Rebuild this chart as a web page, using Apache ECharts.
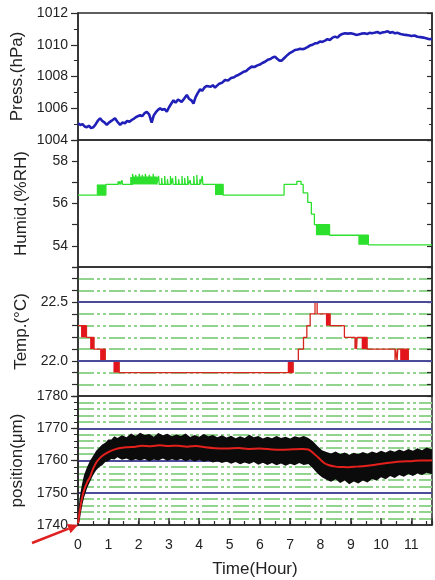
<!DOCTYPE html>
<html>
<head>
<meta charset="utf-8">
<script src="https://cdn.jsdelivr.net/npm/echarts@6/dist/echarts.min.js"></script>
<style>
  html, body { margin: 0; padding: 0; background: #fff; }
  #chart { width: 435px; height: 580px; }
</style>
</head>
<body>
<div id="chart"></div>
<script>
// time range in hours
const X_MAX = 11.68;
const hourTicks = [0, 1, 2, 3, 4, 5, 6, 7, 8, 9, 10, 11];
const humidTicks = [54, 56, 58];
const tempTicks = [22.0, 22.5];
const tempMajor = [22.0, 22.5];

// [hour, hPa]
const pressure = [
  [0,1005.05],[0.08,1004.95],[0.15,1005.0],[0.22,1004.85],[0.29,1004.8],[0.36,1004.9],[0.43,1004.75],[0.5,1004.8],
  [0.57,1004.95],[0.65,1005.2],[0.73,1005.37],[0.8,1005.2],[0.88,1005.1],[0.95,1004.95],[1.02,1005.1],[1.1,1005.2],
  [1.16,1005.3],[1.22,1005.37],[1.3,1005.15],[1.39,1004.95],[1.47,1005.1],[1.55,1005.05],[1.62,1005.2],[1.7,1005.15],
  [1.77,1005.26],[1.85,1005.35],[1.92,1005.45],[1.98,1005.4],[2.05,1005.57],[2.12,1005.5],[2.2,1005.7],[2.27,1005.78],
  [2.35,1005.6],[2.43,1005.1],[2.5,1005.55],[2.57,1005.75],[2.64,1005.9],[2.71,1006.0],[2.78,1005.9],[2.86,1005.95],
  [2.93,1005.78],[3.0,1006.05],[3.08,1006.3],[3.15,1006.5],[3.22,1006.35],[3.3,1006.55],[3.36,1006.45],[3.42,1006.4],
  [3.5,1006.6],[3.59,1006.84],[3.66,1006.6],[3.74,1006.5],[3.81,1006.3],[3.88,1006.7],[3.95,1006.95],[4.03,1007.2],
  [4.1,1007.1],[4.17,1007.3],[4.24,1007.4],[4.3,1007.47],[4.38,1007.35],[4.45,1007.45],[4.52,1007.3],[4.58,1007.36],
  [4.66,1007.55],[4.75,1007.6],[4.85,1007.78],[4.95,1007.75],[5.05,1007.9],[5.15,1007.95],[5.22,1008.05],[5.29,1008.1],
  [5.38,1008.2],[5.47,1008.3],[5.55,1008.35],[5.64,1008.5],[5.73,1008.62],[5.82,1008.6],[5.92,1008.7],[6.0,1008.75],
  [6.08,1008.85],[6.17,1008.93],[6.26,1009.05],[6.35,1009.1],[6.42,1009.2],[6.5,1009.25],[6.58,1009.1],[6.65,1009.0],
  [6.72,1009.0],[6.8,1009.15],[6.88,1009.3],[6.97,1009.45],[7.06,1009.55],[7.16,1009.67],[7.25,1009.7],[7.33,1009.75],
  [7.41,1009.72],[7.49,1009.77],[7.57,1009.85],[7.65,1009.95],[7.74,1010.0],[7.82,1010.09],[7.9,1010.1],[7.98,1010.2],
  [8.06,1010.18],[8.15,1010.26],[8.23,1010.35],[8.31,1010.3],[8.4,1010.45],[8.48,1010.51],[8.56,1010.45],[8.64,1010.6],
  [8.72,1010.68],[8.81,1010.72],[8.9,1010.7],[9.0,1010.72],[9.1,1010.68],[9.18,1010.62],[9.25,1010.65],[9.35,1010.7],
  [9.45,1010.72],[9.55,1010.68],[9.62,1010.75],[9.69,1010.72],[9.78,1010.75],[9.88,1010.8],[9.97,1010.72],[10.05,1010.78],
  [10.13,1010.8],[10.22,1010.85],[10.3,1010.75],[10.38,1010.8],[10.46,1010.72],[10.55,1010.75],[10.64,1010.68],[10.72,1010.65],
  [10.8,1010.62],[10.9,1010.6],[11.0,1010.55],[11.1,1010.58],[11.2,1010.5],[11.3,1010.48],[11.4,1010.45],[11.51,1010.4],
  [11.6,1010.35],[11.68,1010.38]
];

// [hour, %RH] change points (value holds until next point)
const humidity = [
  [0,56.4],[0.92,56.9],
  [1.32,57.05],[1.34,56.9],[1.38,57.05],[1.4,56.9],[1.45,57.1],[1.47,56.9],
  [1.8,57.4],[1.82,57.25],[1.9,57.35],[1.92,57.25],[2.02,57.4],[2.04,57.25],[2.12,57.35],[2.14,57.25],
  [2.22,57.4],[2.24,57.25],[2.35,57.35],[2.37,57.25],[2.48,57.4],[2.5,57.25],[2.6,56.9],
  [2.66,57.3],[2.68,56.9],[2.76,57.2],[2.78,56.9],[2.86,57.3],[2.88,56.9],[2.95,57.15],[2.97,56.9],
  [3.05,57.3],[3.07,56.9],[3.12,57.2],[3.14,56.9],[3.22,57.3],[3.24,56.9],[3.32,57.15],[3.34,56.9],
  [3.43,57.3],[3.45,56.9],[3.52,57.2],[3.54,56.9],[3.62,57.3],[3.64,56.9],[3.7,57.1],[3.72,56.9],
  [3.82,57.3],[3.84,56.9],[3.92,57.35],[3.94,56.9],[4.02,57.15],[4.04,56.9],[4.1,57.3],[4.12,56.9],
  [4.79,56.4],[6.8,56.9],[7.22,57.05],[7.36,56.9],[7.43,56.5],[7.58,56.05],[7.7,55.5],[7.8,55.0],
  [8.3,54.5],[9.58,54.05],[11.68,54.05]
];
// [from, to, low, high] rapid toggling
const humidBlocks = [
  [0.62,0.92,56.4,56.9],[1.72,2.6,56.9,57.25],[4.52,4.79,56.4,56.9],[7.85,8.3,54.5,55.0],[9.25,9.58,54.05,54.5]
];

// [hour, degC] change points
const temperature = [
  [0,22.3],[0.28,22.2],[0.53,22.1],[0.9,22.0],[1.36,21.9],[7.1,22.0],[7.27,22.1],[7.44,22.2],[7.55,22.3],
  [7.66,22.4],[7.82,22.5],[7.89,22.4],[8.32,22.3],[8.79,22.2],[9.14,22.1],[9.16,22.2],[9.19,22.1],[9.21,22.2],
  [9.54,22.1],[10.46,22.0],[10.48,22.1],[10.53,22.0],[10.55,22.1],[10.9,22.0],[11.68,22.0]
];
const tempBlocks = [
  [0.1,0.28,22.2,22.3],[0.4,0.53,22.1,22.2],[0.73,0.9,22.0,22.1],[1.17,1.36,21.9,22.0],
  [6.92,7.1,21.9,22.0],[8.18,8.32,22.3,22.4],[9.36,9.54,22.1,22.2],[10.63,10.9,22.0,22.1]
];

// raw position spread: [hour, low, high]
const posBand = [
  [0,1740,1743],[0.05,1741,1748],[0.1,1744,1751],[0.15,1746.5,1753.5],[0.2,1748.5,1755.5],[0.3,1751.5,1758],
  [0.4,1753.5,1760],[0.5,1755.5,1761.5],[0.6,1757,1763],[0.7,1758,1764],[0.8,1758.5,1765],[0.9,1759.5,1765.5],
  [1.0,1759.8,1766.5],[1.1,1760.5,1766.5],[1.2,1760.3,1767.5],[1.3,1761,1767],
  [1.45,1760.2,1767.8],[1.6,1760.6,1767.2],[1.75,1759.9,1768.4],[1.9,1760.4,1767.6],[2.05,1760.0,1768.6],
  [2.2,1760.5,1767.9],[2.35,1759.8,1768.2],[2.5,1760.3,1767.4],[2.65,1760.0,1768.5],[2.8,1760.6,1767.8],
  [2.95,1759.9,1768.3],[3.1,1760.4,1767.5],[3.25,1760.0,1768.1],[3.4,1760.5,1767.6],[3.55,1759.8,1768.4],
  [3.7,1760.3,1767.3],[3.85,1759.7,1767.9],[4.0,1760.2,1767.4],[4.15,1759.6,1768.2],[4.3,1760.0,1767.5],
  [4.45,1759.4,1767.9],[4.6,1759.8,1767.2],[4.75,1759.2,1767.8],[4.9,1759.7,1767.1],[5.05,1759.0,1767.7],
  [5.2,1759.5,1766.9],[5.35,1758.8,1767.5],[5.5,1759.4,1767.0],[5.65,1758.9,1768.0],[5.8,1759.5,1767.2],
  [5.95,1758.7,1767.6],[6.1,1759.3,1766.8],[6.25,1758.6,1767.4],[6.4,1759.2,1766.9],[6.55,1758.5,1767.6],
  [6.7,1759.1,1767.0],[6.85,1758.4,1767.4],[7.0,1759.0,1766.8],[7.15,1758.5,1767.5],[7.3,1759.2,1767.1],
  [7.45,1758.6,1767.6],[7.6,1758.9,1767.0],[7.75,1757.6,1766.0],[7.9,1756.0,1764.5],[8.05,1754.8,1763.2],
  [8.2,1754.0,1762.6],[8.35,1753.4,1762.2],[8.5,1754.2,1762.8],[8.65,1753.0,1762.0],[8.8,1753.8,1762.5],
  [8.95,1752.6,1761.8],[9.1,1753.5,1762.4],[9.25,1752.9,1762.0],[9.4,1753.8,1762.6],[9.55,1753.2,1762.1],
  [9.7,1754.3,1762.8],[9.85,1753.8,1762.3],[10.0,1754.8,1763.0],[10.15,1754.2,1762.5],[10.3,1755.2,1763.2],
  [10.45,1754.6,1762.7],[10.6,1755.5,1763.4],[10.75,1755.0,1762.9],[10.9,1755.8,1763.6],[11.05,1755.2,1763.0],
  [11.2,1756.0,1763.8],[11.35,1755.5,1763.2],[11.5,1756.2,1764.0],[11.68,1755.7,1763.4]
];
// smoothed position [hour, um]
const posSmooth = [
  [0,1740.5],[0.06,1744.5],[0.12,1747.8],[0.2,1750.8],[0.3,1753.2],[0.4,1755],[0.5,1757.5],[0.62,1759.6],
  [0.73,1760.8],[0.84,1761.7],[1.0,1762.6],[1.17,1763.3],[1.35,1763.8],[1.6,1764.1],[1.9,1764.3],[2.1,1764.6],
  [2.4,1764.4],[2.7,1764.7],[3.0,1764.5],[3.3,1764.6],[3.6,1764.3],[3.9,1764.5],[4.2,1764.1],[4.52,1763.8],
  [4.9,1763.7],[5.3,1763.9],[5.62,1763.6],[6.0,1763.7],[6.4,1763.4],[6.72,1763.3],[7.1,1763.5],[7.4,1763.6],
  [7.6,1763.4],[7.75,1762.4],[7.93,1760.9],[8.1,1759.4],[8.26,1758.6],[8.5,1758.1],[8.7,1758.0],[8.92,1757.9],
  [9.2,1758.1],[9.47,1758.3],[9.75,1758.6],[10.02,1759.0],[10.35,1759.4],[10.68,1759.7],[11.0,1759.8],
  [11.3,1760.0],[11.56,1760.0],[11.68,1760.1]
];

const FRAME = '#2b2b2b';
const FONT = 'Liberation Sans';
const tickLabel = { fontFamily: FONT, fontSize: 14, color: '#222' };
const nameStyle = { fontFamily: FONT, fontSize: 17, color: '#222' };
const greenDash = { color: '#92d48e', width: 2, type: [16, 3, 3, 3, 3, 3] };
const blueLine = { color: '#4b4b9c', width: 1.8, type: 'solid' };

function blocks(list) {
  return list.map(b => [{ xAxis: b[0], yAxis: b[2] }, { xAxis: b[1], yAxis: b[3] }]);
}
function near(list, v) {
  return list.some(t => Math.abs(t - v) < 1e-6);
}

// left axis with labels + mirrored right axis with inward ticks
function yPair(grid, min, max, interval, name, opts) {
  const base = {
    type: 'value', gridIndex: grid, min: min, max: max, interval: interval,
    axisLine: { show: true, lineStyle: { color: FRAME, width: 1.5 } },
    splitLine: { show: false }
  };
  const minor = opts.minor ? { show: true, splitNumber: opts.minor, length: 4, lineStyle: { color: FRAME } } : { show: false };
  const left = Object.assign({}, base, {
    position: 'left',
    axisTick: { show: true, length: opts.tick || 6, lineStyle: { color: FRAME, width: 1.2 } },
    minorTick: minor,
    axisLabel: Object.assign({ margin: 10, formatter: opts.fmt || (v => String(v)) }, tickLabel),
    name: name, nameLocation: 'middle', nameGap: 48, nameTextStyle: nameStyle
  });
  if (opts.split) left.splitLine = opts.split;
  if (opts.minorSplit) left.minorSplitLine = opts.minorSplit;
  const right = Object.assign({}, base, {
    position: 'right',
    axisTick: { show: true, inside: true, length: 5, lineStyle: { color: FRAME, width: 1.2 } },
    minorTick: opts.minor ? { show: true, splitNumber: opts.minor, length: 3, lineStyle: { color: FRAME } } : { show: false },
    axisLabel: { show: false }
  });
  return [left, right];
}

const xBase = { type: 'value', min: 0, max: X_MAX, splitLine: { show: false }, position: 'bottom' };

const chart = echarts.init(document.getElementById('chart'));
chart.setOption({
  animation: false,
  textStyle: { fontFamily: FONT },
  grid: [
    { top: 13, height: 127 },
    { top: 140, height: 127 },
    { top: 267, height: 129 },
    { top: 396, height: 129 }
  ].map(g => Object.assign({ left: 78, right: 3, show: true, borderColor: FRAME, borderWidth: 1.5 }, g)),
  xAxis: [
    Object.assign({}, xBase, { gridIndex: 0, show: false }),
    Object.assign({}, xBase, { gridIndex: 1, show: false }),
    Object.assign({}, xBase, { gridIndex: 2, show: false }),
    Object.assign({}, xBase, {
      gridIndex: 3, interval: 1,
      axisLine: { lineStyle: { color: FRAME, width: 1.5 } },
      axisTick: { inside: true, length: 7, lineStyle: { color: FRAME, width: 1.5 } },
      axisLabel: Object.assign({ margin: 13, formatter: v => near(hourTicks, v) ? String(v) : '' }, tickLabel),
      name: 'Time(Hour)', nameLocation: 'middle', nameGap: 36, nameTextStyle: nameStyle
    }),
    Object.assign({}, xBase, {
      gridIndex: 3, interval: 0.5,
      axisLine: { show: false },
      axisTick: { inside: true, length: 4, lineStyle: { color: FRAME, width: 1.2 } },
      axisLabel: { show: false }
    })
  ],
  yAxis: [].concat(
    yPair(0, 1004, 1012, 2, 'Press.(hPa)', { minor: 2, tick: 7 }),
    yPair(1, 53, 59, 1, 'Humid.(%RH)', { fmt: v => near(humidTicks, v) ? String(v) : '' }),
    yPair(2, 21.7, 22.8, 0.1, 'Temp.(°C)', {
      fmt: v => near(tempTicks, v) ? v.toFixed(1) : '',
      split: { show: true, showMinLine: false, showMaxLine: false, lineStyle: greenDash }
    }),
    yPair(3, 1740, 1780, 10, 'position(μm)', {
      minor: 5, tick: 7,
      split: { show: true, showMinLine: false, showMaxLine: false, lineStyle: blueLine },
      minorSplit: { show: true, lineStyle: greenDash }
    })
  ),
  series: [
    {
      type: 'line', xAxisIndex: 0, yAxisIndex: 0, data: pressure, symbol: 'none',
      lineStyle: { color: '#2020b8', width: 2.6 }
    },
    {
      type: 'line', xAxisIndex: 1, yAxisIndex: 2, data: humidity, symbol: 'none', step: 'end',
      lineStyle: { color: '#2ee02e', width: 1.3 },
      markArea: { silent: true, itemStyle: { color: '#2ee02e', borderWidth: 0 }, data: blocks(humidBlocks) }
    },
    {
      type: 'line', xAxisIndex: 2, yAxisIndex: 4, data: temperature, symbol: 'none', step: 'end',
      lineStyle: { color: '#d8261e', width: 1.3 },
      markArea: { silent: true, itemStyle: { color: '#e4141c', borderWidth: 0 }, data: blocks(tempBlocks) },
      markLine: {
        silent: true, symbol: 'none', label: { show: false }, lineStyle: blueLine,
        data: tempMajor.map(v => ({ yAxis: v }))
      }
    },
    {
      type: 'custom', xAxisIndex: 3, yAxisIndex: 6, silent: true, data: [[0, 1760]],
      renderItem: (params, api) => {
        const upper = posBand.map(p => api.coord([p[0], p[2]]));
        const lower = posBand.slice().reverse().map(p => api.coord([p[0], p[1]]));
        return { type: 'polygon', shape: { points: upper.concat(lower) }, style: { fill: '#0b0b0b' } };
      }
    },
    {
      type: 'line', xAxisIndex: 3, yAxisIndex: 6, data: posSmooth, symbol: 'none', smooth: 0.3,
      lineStyle: { color: '#e4201c', width: 2 }, z: 5
    }
  ]
});

// red arrow pointing at the origin of the position panel
const tip = chart.convertToPixel({ seriesIndex: 4 }, [0, 1740]);
const tail = [tip[0] - 46, tip[1] + 18];
const dx = tip[0] - tail[0], dy = tip[1] - tail[1];
const len = Math.sqrt(dx * dx + dy * dy);
const ux = dx / len, uy = dy / len;
const base = [tip[0] - ux * 10, tip[1] - uy * 10];
chart.setOption({
  graphic: [
    { type: 'line', shape: { x1: tail[0], y1: tail[1], x2: base[0], y2: base[1] }, style: { stroke: '#e02020', lineWidth: 2.5 }, z: 100 },
    {
      type: 'polygon', z: 100,
      shape: { points: [tip, [base[0] - uy * 5, base[1] + ux * 5], [base[0] + uy * 5, base[1] - ux * 5]] },
      style: { fill: '#e02020' }
    }
  ]
});
</script>
</body>
</html>
